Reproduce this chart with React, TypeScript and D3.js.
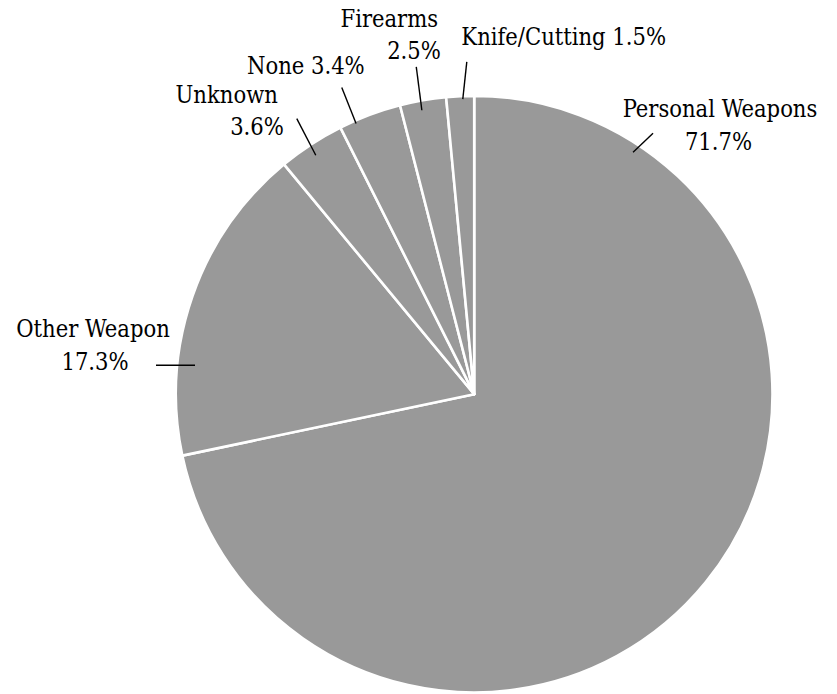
import * as d3 from 'd3'

const WIDTH = 837
const HEIGHT = 694
const CX = 474.2
const CY = 394.2
const RADIUS = 298.3
const FONT = "'DejaVu Serif Condensed', 'DejaVu Serif', serif"
const FONT_SIZE = 23.5

const SLICE_COLOR = '#999999'

// slices, clockwise from 12 o'clock
const categories = ['Personal Weapons', 'Other Weapon', 'Unknown', 'None', 'Firearms', 'Knife/Cutting']
const values = [71.7, 17.3, 3.6, 3.4, 2.5, 1.5]
const percentLabels = ['71.7%', '17.3%', '3.6%', '3.4%', '2.5%', '1.5%']

// label placement: where the leader touches the slice (t across slice, r as fraction of radius),
// leader offset, and text lines (x, baseline relative to chart centre)
interface LabelLayout {
  t: number
  r: number
  off: [number, number]
  lines: { text: (i: number) => string; x: number; y: number }[]
}
const layout: LabelLayout[] = [
  {
    t: 0.129,
    r: 0.97,
    off: [20, -19],
    lines: [
      { text: (i) => categories[i], x: 245.8, y: -277 },
      { text: (i) => percentLabels[i], x: 244.3, y: -244.3 },
    ],
  },
  {
    t: 0.286,
    r: 0.941,
    off: [-39, 0],
    lines: [
      { text: (i) => categories[i], x: -381.2, y: -57.7 },
      { text: (i) => percentLabels[i], x: -379.2, y: -24.2 },
    ],
  },
  {
    t: 0.467,
    r: 0.961,
    off: [-19, -36.7],
    lines: [
      { text: (i) => categories[i], x: -247.5, y: -290.9 },
      { text: (i) => percentLabels[i], x: -217.2, y: -259.2 },
    ],
  },
  {
    t: 0.25,
    r: 0.99,
    off: [-14.3, -36],
    lines: [{ text: (i) => `${categories[i]} ${percentLabels[i]}`, x: -168.4, y: -320.7 }],
  },
  {
    t: 0.44,
    r: 0.968,
    off: [-5.6, -43.3],
    lines: [
      { text: (i) => categories[i], x: -84.9, y: -367.7 },
      { text: (i) => percentLabels[i], x: -60.2, y: -335.2 },
    ],
  },
  {
    t: 0.59,
    r: 0.99,
    off: [4, -37.3],
    lines: [{ text: (i) => `${categories[i]} ${percentLabels[i]}`, x: 89.5, y: -349.2 }],
  },
]

export default function App() {
  const pie = d3
    .pie<number>()
    .sort(null)
    .value((d) => d)
    .startAngle(0)
    .endAngle(2 * Math.PI)
  const arcs = pie(values)
  const arc = d3.arc<d3.PieArcDatum<number>>().innerRadius(0).outerRadius(RADIUS)

  const point = (angle: number, r: number): [number, number] => [
    r * Math.sin(angle),
    -r * Math.cos(angle),
  ]

  return (
    <svg
      width={WIDTH}
      height={HEIGHT}
      viewBox={`0 0 ${WIDTH} ${HEIGHT}`}
      style={{ position: 'absolute', left: 0, top: 0, background: '#fff' }}
    >
      <g transform={`translate(${CX},${CY})`}>
        {arcs.map((a, i) => (
          <path
            key={categories[i]}
            d={arc(a) ?? ''}
            fill={SLICE_COLOR}
            stroke="#fff"
            strokeWidth={2.6}
            strokeLinejoin="round"
          />
        ))}
        {arcs.map((a, i) => {
          const l = layout[i]
          const ang = a.startAngle + (a.endAngle - a.startAngle) * l.t
          const [x1, y1] = point(ang, RADIUS * l.r)
          return (
            <g key={`lbl-${categories[i]}`}>
              <line
                x1={x1}
                y1={y1}
                x2={x1 + l.off[0]}
                y2={y1 + l.off[1]}
                stroke="#000"
                strokeWidth={1.4}
              />
              {l.lines.map((ln, j) => (
                <text
                  key={j}
                  x={ln.x}
                  y={ln.y}
                  textAnchor="middle"
                  style={{ fontFamily: FONT, fontSize: FONT_SIZE, fontStretch: 'condensed' }}
                  fill="#000"
                >
                  {ln.text(i)}
                </text>
              ))}
            </g>
          )
        })}
      </g>
    </svg>
  )
}
